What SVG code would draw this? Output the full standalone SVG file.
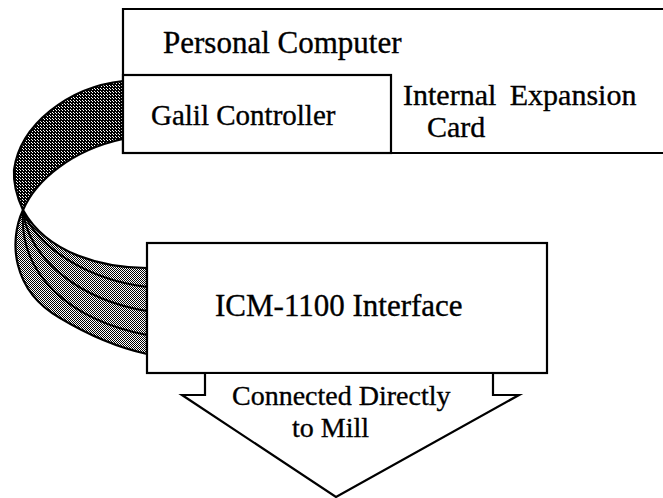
<svg xmlns="http://www.w3.org/2000/svg" width="663" height="498" viewBox="0 0 663 498">
<style>
.box{fill:#fff;stroke:#000;stroke-width:2.2}
.t{font-family:"Liberation Serif","Times New Roman",serif;fill:#000;stroke:#000;stroke-width:0.35}
.band{stroke:#000;stroke-width:2.2;stroke-linejoin:round}
.strand{fill:none;stroke:#000;stroke-width:2}
</style>
<defs>
<pattern id="darkDots" width="3" height="3" patternUnits="userSpaceOnUse">
<rect width="3" height="3" fill="#000" shape-rendering="crispEdges"/>
<rect x="1" y="1" width="1" height="1" fill="#fff" shape-rendering="crispEdges"/>
<rect x="2" y="2" width="1" height="1" fill="#fff" shape-rendering="crispEdges"/>
</pattern>
<pattern id="lightDots" width="2" height="2" patternUnits="userSpaceOnUse">
<rect width="2" height="2" fill="#fff" shape-rendering="crispEdges"/>
<rect x="0" y="0" width="1" height="1" fill="#000" shape-rendering="crispEdges"/>
<rect x="1" y="1" width="1" height="1" fill="#000" shape-rendering="crispEdges"/>
</pattern>
</defs>
<rect width="663" height="498" fill="#fff"/>
<g id="connectors">
<path class="band" fill="url(#darkDots)" d="M123,81 C68,87 20,125 14,170 C13,186 18,199 23,210 C36,180 72,150 123,139 Z"/>
<path class="band" fill="url(#lightDots)" d="M23,210 C9,240 11,290 60,318 C90,336 120,348 147,354 L147,268 C105,268 48,255 23,210 Z"/>
<path class="strand" d="M23,212 C40,250 90,280 147,287"/>
<path class="strand" d="M23,212 C30,260 80,300 147,311"/>
<path class="strand" d="M23,212 C19,275 70,320 147,335"/>
</g>
<g id="personal-computer">
<path class="box" d="M665,9 L123,9 L123,153 L665,153"/>
<text class="t" x="163" y="53" font-size="31">Personal Computer</text>
</g>
<g id="galil-controller">
<rect class="box" x="123" y="75" width="268" height="78"/>
<text class="t" x="151" y="125" font-size="29">Galil Controller</text>
</g>
<g id="internal-expansion-card">
<text class="t" x="403" y="105" font-size="30" word-spacing="6">Internal Expansion</text>
<text class="t" x="427" y="137" font-size="30">Card</text>
</g>
<g id="icm-interface">
<rect class="box" x="147" y="243" width="400" height="130"/>
<text class="t" x="215" y="316" font-size="31">ICM-1100 Interface</text>
</g>
<g id="mill-output">
<path class="box" d="M205,374 L205,395 L182,395 L336,497 L519,395 L493,395 L493,374"/>
<text class="t" x="232" y="405" font-size="28">Connected Directly</text>
<text class="t" x="292" y="437" font-size="28">to Mill</text>
</g>
</svg>
